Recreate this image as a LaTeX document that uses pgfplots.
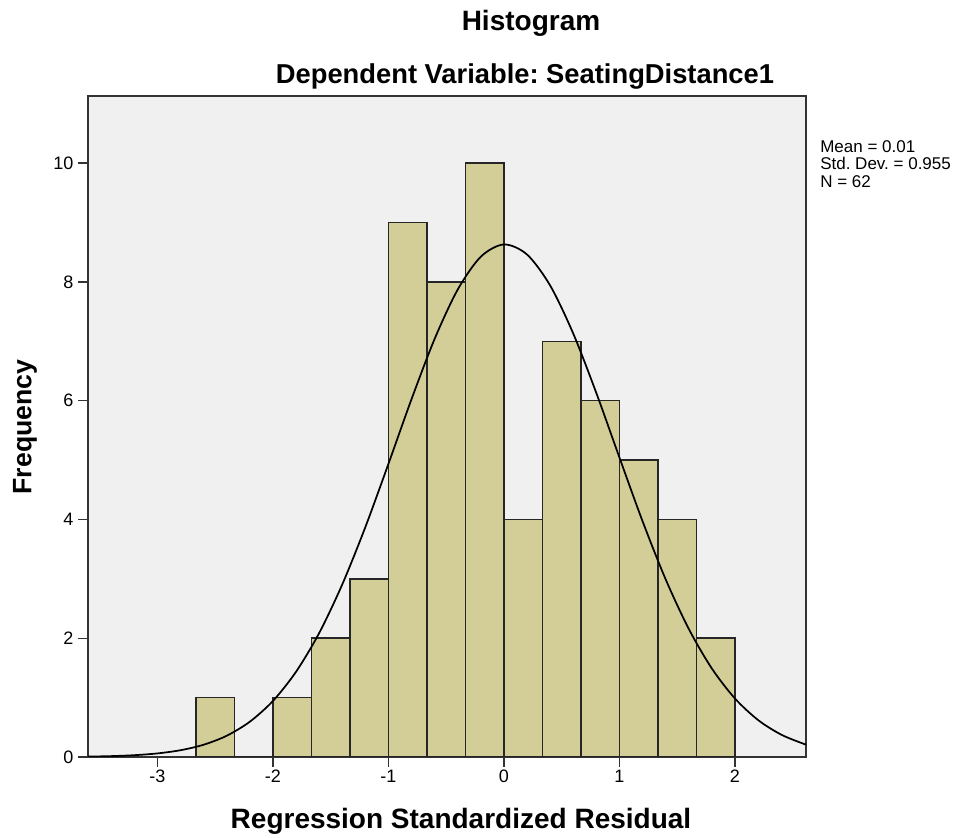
\documentclass[border=0pt]{standalone}
\usepackage{fontspec}
\setmainfont{Liberation Sans}
\usepackage{pgfplots}
\pgfplotsset{compat=1.18}
\definecolor{bg}{HTML}{F0F0F0}
\definecolor{barfill}{HTML}{D3CE98}
\frenchspacing
\begin{document}
\begin{tikzpicture}
\useasboundingbox (-66pt,-60.75pt) rectangle (659.25pt,567.75pt);
\begin{axis}[
  at={(0,0)}, anchor=south west, scale only axis,
  width=538.5pt, height=495.75pt,
  xmin=-3.6, xmax=2.615, ymin=0, ymax=11.13,
  axis background/.style={fill=bg},
  axis line style={black!80, line width=1pt},
  xtick={-3,-2,-1,0,1,2}, xticklabels={-3,-2,-1,0,1,2},
  ytick={0,2,4,6,8,10}, yticklabels={0,2,4,6,8,10},
  tick align=outside, tick pos=left,
  major tick length=7.5pt,
  tick style={black!80, line width=1pt},
  ticklabel style={font=\fontsize{13.5}{15}\selectfont},
  xticklabel style={yshift=1pt},
  clip=true,
]
\addplot[ybar interval, fill=barfill, draw=black!85, line width=1.1pt] coordinates {
(-2.6667,1) (-2.3333,0) (-2,1) (-1.6667,2) (-1.3333,3) (-1,9) (-0.6667,8)
(-0.3333,10) (0,4) (0.3333,7) (0.6667,6) (1,5) (1.3333,4) (1.6667,2) (2,2)
};
\addplot[black, line width=1.3pt, smooth, no markers] coordinates {
(-3.6,0.0068) (-3.4,0.0147) (-3.2,0.0304) (-3.0,0.0601) (-2.8,0.1138)
(-2.6,0.206) (-2.4,0.357) (-2.2,0.593) (-2.0,0.942) (-1.8,1.433)
(-1.6,2.083) (-1.4,2.902) (-1.2,3.867) (-1.0,4.933) (-0.8,6.023)
(-0.6,7.038) (-0.4,7.870) (-0.2,8.424) (0.0,8.63) (0.2,8.461)
(0.4,7.940) (0.6,7.131) (0.8,6.129) (1.0,5.043) (1.2,3.971)
(1.4,2.992) (1.6,2.158) (1.8,1.490) (2.0,0.985) (2.2,0.6225)
(2.4,0.3767) (2.6,0.218) (2.615,0.212)
};
\end{axis}
\node[font=\bfseries\fontsize{21}{24}\selectfont] at (332.25pt,550.5pt) {Histogram};
\node[font=\bfseries\fontsize{20.5}{24}\selectfont] at (327.75pt,510.5pt) {Dependent Variable: SeatingDistance1};
\node[font=\bfseries\fontsize{20}{24}\selectfont, rotate=90] at (-47.25pt,247.5pt) {Frequency};
\node[font=\bfseries\fontsize{21}{24}\selectfont] at (279.75pt,-48pt) {Regression Standardized Residual};
\node[font=\fontsize{12.75}{13.1}\selectfont, anchor=north west, align=left, inner sep=0pt] at (549pt,462.75pt) {Mean = 0.01\\Std. Dev. = 0.955\\N = 62};
\end{tikzpicture}
\end{document}
